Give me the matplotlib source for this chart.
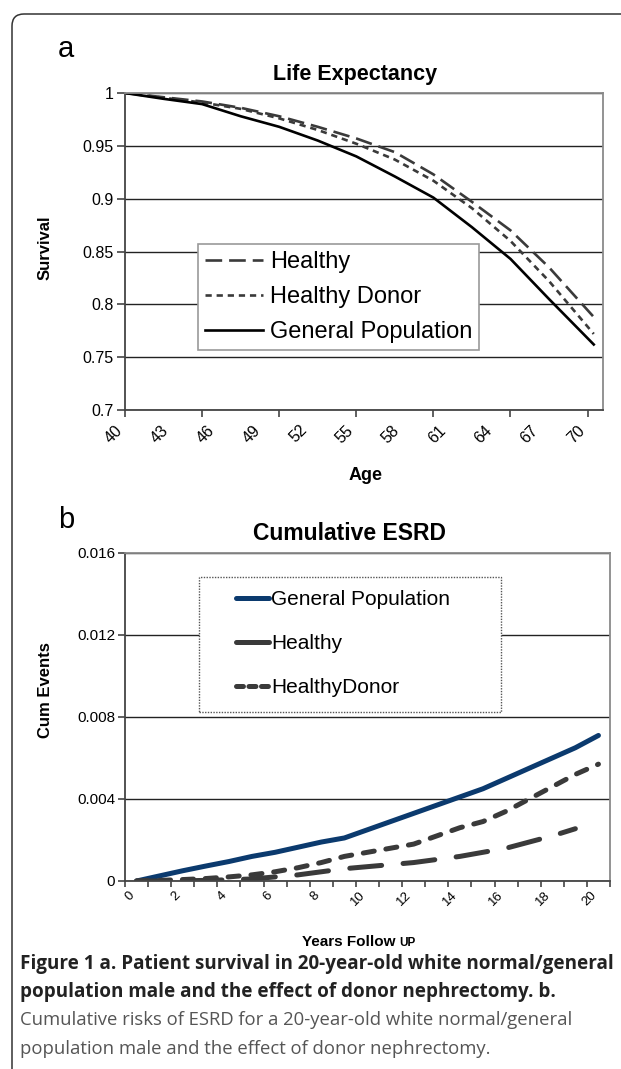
import matplotlib
matplotlib.use('Agg')
import matplotlib.pyplot as plt
from matplotlib.patches import FancyBboxPatch, Rectangle
from matplotlib.lines import Line2D
from matplotlib.transforms import IdentityTransform

plt.rcParams['font.family'] = ['Liberation Sans', 'DejaVu Sans']
plt.rcParams['lines.scale_dashes'] = False

# ---------------- data ----------------
ages = [40, 42.5, 45, 47.5, 50, 52.5, 55, 57.5, 60, 62.5, 65, 67.5, 70.4]
surv_healthy = [1.0, 0.996, 0.992, 0.986, 0.978, 0.968, 0.957, 0.944, 0.923, 0.897, 0.870, 0.835, 0.788]
surv_donor = [1.0, 0.9955, 0.991, 0.985, 0.976, 0.965, 0.952, 0.937, 0.917, 0.891, 0.860, 0.822, 0.772]
surv_general = [1.0, 0.9945, 0.9895, 0.978, 0.968, 0.955, 0.940, 0.921, 0.901, 0.873, 0.843, 0.805, 0.762]
age_labels = list(range(40, 71, 3))
age_marks = list(range(40, 71, 5))
surv_ticks = [0.7, 0.75, 0.8, 0.85, 0.9, 0.95, 1.0]
surv_ticklabels = ['0.7', '0.75', '0.8', '0.85', '0.9', '0.95', '1']

years = list(range(0, 21))
esrd_general = [0, 0.00025, 0.0005, 0.00073, 0.00095, 0.0012, 0.0014, 0.00165, 0.0019, 0.0021,
                0.0025, 0.0029, 0.0033, 0.0037, 0.0041, 0.0045, 0.005, 0.0055, 0.006, 0.0065, 0.0071]
years_healthy = list(range(0, 20))
esrd_healthy = [0, 0, 0.00001, 0.00003, 0.00006, 0.0001, 0.0002, 0.0003, 0.00045, 0.0006,
                0.0007, 0.0008, 0.0009, 0.00105, 0.0012, 0.0014, 0.0016, 0.0019, 0.0022, 0.00255]
esrd_donor = [0, 0.00003, 0.00007, 0.00012, 0.0002, 0.0003, 0.00045, 0.00065, 0.0009, 0.0012,
              0.0014, 0.0016, 0.0018, 0.0022, 0.0026, 0.0029, 0.0034, 0.004, 0.0046, 0.0052, 0.0057]
year_labels = list(range(0, 21, 2))
esrd_ticks = [0, 0.004, 0.008, 0.012, 0.016]
esrd_ticklabels = ['0', '0.004', '0.008', '0.012', '0.016']

# ---------------- layout ----------------
W, H, DPI = 621, 1069, 100
fig = plt.figure(figsize=(W / DPI, H / DPI), dpi=DPI)
fig.patch.set_facecolor('white')


def px_axes(l, t, r, b):
    return fig.add_axes([l / W, 1 - b / H, (r - l) / W, (b - t) / H])


def fx(x):
    return x / W


def fy(y):
    return 1 - y / H


DARK = '#3a3a3a'
NAVY = '#0b3a6e'


def style_axes(ax):
    for s in ('left', 'bottom'):
        ax.spines[s].set_color('#444444')
        ax.spines[s].set_linewidth(1.3)
    for s in ('top', 'right'):
        ax.spines[s].set_color('#8a8a8a')
        ax.spines[s].set_linewidth(1.3)
    ax.set_axisbelow(True)
    ax.xaxis.remove_overlapping_locs = False


# outer rounded frame
frame = FancyBboxPatch((12, -60), 800, H - 14 + 60,
                       boxstyle='round,pad=0,rounding_size=12',
                       transform=IdentityTransform(), facecolor='none',
                       edgecolor='#333333', linewidth=1.1, clip_on=False)
fig.add_artist(frame)

# ---------------- panel a ----------------
ax1 = px_axes(125, 93, 603, 410)
style_axes(ax1)
ax1.set_xlim(40, 71)
ax1.set_ylim(0.7, 1.0)
ax1.set_yticks(surv_ticks)
ax1.set_yticklabels(surv_ticklabels, fontsize=11.5)
ax1.yaxis.grid(True, color='#222222', linewidth=1.0)
ax1.set_xticks(age_marks)
ax1.set_xticklabels([])
ax1.set_xticks(age_labels, minor=True)
ax1.set_xticklabels([str(a) for a in age_labels], minor=True, rotation=45,
                    ha='right', fontsize=11.5)
ax1.tick_params(axis='x', which='major', length=5, width=1.2, color='#444444', direction='out')
ax1.tick_params(axis='x', which='minor', length=0, pad=9)
ax1.tick_params(axis='y', length=6, width=1.2, color='#444444', direction='out', pad=2)

l_h, = ax1.plot(ages, surv_healthy, color=DARK, lw=1.9, dashes=(12, 5), label='Healthy')
l_d, = ax1.plot(ages, surv_donor, color=DARK, lw=1.9, dashes=(4.5, 3.5), label='Healthy Donor')
l_g, = ax1.plot(ages, surv_general, color='black', lw=1.9, label='General Population')

leg1 = ax1.legend(handles=[l_h, l_d, l_g], loc='upper left',
                  bbox_to_anchor=(fx(198), fy(244)), bbox_transform=fig.transFigure,
                  fontsize=17, frameon=True, fancybox=False, framealpha=1,
                  edgecolor='#9a9a9a', borderpad=0.3, borderaxespad=0,
                  handlelength=2.45, handletextpad=0.3, labelspacing=0.55)
leg1.get_frame().set_linewidth(1.2)

fig.text(fx(58), fy(57), 'a', fontsize=21, ha='left', va='baseline')
fig.text(fx(355), fy(80), 'Life Expectancy', fontsize=15.5, fontweight='bold',
         ha='center', va='baseline')
fig.text(fx(45), fy(248), 'Survival', fontsize=12, fontweight='bold',
         rotation=90, ha='center', va='center')
fig.text(fx(366), fy(480), 'Age', fontsize=13, fontweight='bold', ha='center', va='baseline')

# ---------------- panel b ----------------
ax2 = px_axes(125, 553, 610, 881)
style_axes(ax2)
ax2.set_xlim(-0.5, 20.5)
ax2.set_ylim(0, 0.016)
ax2.set_yticks(esrd_ticks)
ax2.set_yticklabels(esrd_ticklabels, fontsize=11)
ax2.yaxis.grid(True, color='#222222', linewidth=1.0)
ax2.set_xticks([y - 0.5 for y in years] + [20.5])
ax2.set_xticklabels([])
ax2.set_xticks(year_labels, minor=True)
ax2.set_xticklabels([str(y) for y in year_labels], minor=True, rotation=45,
                    ha='right', fontsize=9.5)
ax2.tick_params(axis='x', which='major', length=4, width=1.2, color='#444444', direction='out')
ax2.tick_params(axis='x', which='minor', length=0, pad=6)
ax2.tick_params(axis='y', length=5, width=1.2, color='#444444', direction='out', pad=2)

b_g, = ax2.plot(years, esrd_general, color=NAVY, lw=3.6, solid_capstyle='round',
                label='General Population')
b_h, = ax2.plot(years_healthy, esrd_healthy, color=DARK, lw=3.6, dashes=(23, 15.5),
                dash_capstyle='round', label='Healthy')
b_d, = ax2.plot(years, esrd_donor, color=DARK, lw=3.6, dashes=(8, 8.5),
                dash_capstyle='round', label='HealthyDonor')

box = Rectangle((fx(199), fy(712)), fx(501) - fx(199), fy(577) - fy(712),
                transform=fig.transFigure, facecolor='white', edgecolor='#555555',
                linewidth=1.0, linestyle=(0, (1, 1)), zorder=3)
fig.add_artist(box)
hb_g = Line2D([], [], color=NAVY, lw=3.6, solid_capstyle='round')
hb_h = Line2D([], [], color=DARK, lw=3.6, solid_capstyle='round')
hb_d = Line2D([], [], color=DARK, lw=3.6, dashes=(5, 4), dash_capstyle='round')
leg2 = fig.legend(handles=[hb_g, hb_h, hb_d], labels=['General Population', 'Healthy', 'HealthyDonor'],
                  loc='upper left', bbox_to_anchor=(fx(236), fy(590)),
                  bbox_transform=fig.transFigure, fontsize=15, frameon=False,
                  borderpad=0, borderaxespad=0, handlelength=1.6, handletextpad=0.1,
                  labelspacing=1.2)
leg2.set_zorder(4)

fig.text(fx(58), fy(528), 'b', fontsize=21, ha='left', va='baseline')
fig.text(fx(349), fy(540), 'Cumulative ESRD', fontsize=16.5, fontweight='bold',
         ha='center', va='baseline')
fig.text(fx(45), fy(690), 'Cum Events', fontsize=12, fontweight='bold',
         rotation=90, ha='center', va='center')
fig.text(fx(396), fy(946), 'Years Follow', fontsize=11, fontweight='bold',
         ha='right', va='baseline')
fig.text(fx(399), fy(946), 'UP', fontsize=8.5, fontweight='bold',
         ha='left', va='baseline')

# ---------------- caption ----------------
renderer = fig.canvas.get_renderer()
cap_font = ['Open Sans', 'DejaVu Sans']


def fit_size(s, width_px, weight):
    t = fig.text(0, 0, s, fontsize=12, fontweight=weight, family=cap_font)
    w = t.get_window_extent(renderer=renderer).width
    t.remove()
    return 12 * width_px / w


line1 = 'Figure 1 a. Patient survival in 20-year-old white normal/general'
line2 = 'population male and the effect of donor nephrectomy. b.'
line3 = 'Cumulative risks of ESRD for a 20-year-old white normal/general'
line4 = 'population male and the effect of donor nephrectomy.'
size_bold = fit_size(line1, 595, 'bold')
size_reg = fit_size(line3, 548, 'normal')
for y, s, wgt, col, sz in [(969, line1, 'bold', '#222222', size_bold),
                           (997, line2, 'bold', '#222222', size_bold),
                           (1025, line3, 'normal', '#555555', size_reg),
                           (1054, line4, 'normal', '#555555', size_reg)]:
    fig.text(fx(20), fy(y), s, fontsize=sz, fontweight=wgt, color=col,
             family=cap_font, ha='left', va='baseline')

fig.savefig('out.png', dpi=DPI)
